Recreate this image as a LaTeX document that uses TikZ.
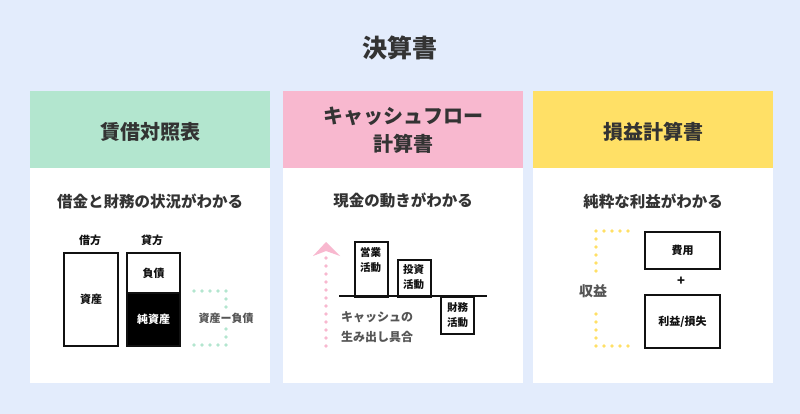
\documentclass[tikz,border=0pt]{standalone}
\usepackage{fontspec}
\setmainfont{Noto Sans CJK JP}
\definecolor{bgblue}{HTML}{E3ECFC}
\definecolor{hgreen}{HTML}{B3E6CF}
\definecolor{hpink}{HTML}{F8B8CF}
\definecolor{hyellow}{HTML}{FFE066}
\definecolor{txt}{HTML}{333333}
\definecolor{gtxt}{HTML}{555555}
\definecolor{ink}{HTML}{111111}
\tikzset{
  panel/.style={fill=white, draw=none, anchor=north west, minimum width=240pt, minimum height=292pt, inner sep=0pt},
  header/.style={draw=none, anchor=north west, minimum width=240pt, minimum height=77pt, inner sep=0pt},
  htext/.style={text=txt, font=\fontsize{20}{28}\selectfont\bfseries, align=center},
  sub/.style={text=txt, font=\fontsize{15.5}{18}\selectfont\bfseries},
  lbl/.style={text=ink, font=\fontsize{11}{15}\selectfont\bfseries, align=center, inner sep=0pt},
  abox/.style={draw=ink, line width=2pt, inner sep=0pt, anchor=north west},
  dots/.style={line width=3.6pt, line cap=round, dash pattern=on 0pt off 8pt},
  gray/.style={text=gtxt, font=\fontsize{12}{20}\selectfont\bfseries, align=left, inner sep=0pt},
}
\begin{document}
\begin{tikzpicture}[x=1pt,y=-1pt]
\useasboundingbox (0,0) rectangle (800,414);
\fill[bgblue] (0,0) rectangle (800,414);
\node[text=txt, font=\fontsize{25}{28}\selectfont\bfseries] (title) at (400,48) {決算書};

% panels
\node[panel] (p1) at (30,91) {};
\node[panel] (p2) at (283,91) {};
\node[panel] (p3) at (533,91) {};
\node[header, fill=hgreen] (h1) at (30,91) {};
\node[header, fill=hpink] (h2) at (283,91) {};
\node[header, fill=hyellow] (h3) at (533,91) {};
\node[htext] (t1) at (150,132) {賃借対照表};
\node[htext] (t2) at (403,130) {キャッシュフロー\\計算書};
\node[htext] (t3) at (653,132) {損益計算書};
\node[sub] (s1) at (150,201) {借金と財務の状況がわかる};
\node[sub] (s2) at (403,201) {現金の動きがわかる};
\node[sub] (s3) at (653,201) {純粋な利益がわかる};

% panel 1
\node[lbl] (kari) at (90,240) {借方};
\node[lbl] (kashi) at (152,240) {貸方};
\node[abox, minimum width=54pt, minimum height=93pt] (asset) at (63,252) {};
\node[lbl] at (asset.center) {資産};
\node[abox, minimum width=53pt, minimum height=40pt] (debt) at (126,252) {};
\node[lbl] at (debt.center) {負債};
\node[abox, fill=black, minimum width=53pt, minimum height=53pt] (equity) at (126,292) {};
\node[lbl, text=white] at (equity.center) {純資産};
\coordinate (g1) at (194,291);
\coordinate (g2) at (226,291);
\coordinate (g3) at (226,307);
\coordinate (g4) at (226,329);
\coordinate (g5) at (226,345);
\coordinate (g6) at (194,345);
\draw[dots, hgreen] (g1) -- (g2) -- (g3);
\draw[dots, hgreen] (g6) -- (g5) -- (g4);
\node[text=gtxt, font=\fontsize{11}{15}\selectfont\bfseries, fill=white, inner sep=1pt] (diff) at (226,318) {資産ー負債};

% panel 2
\coordinate (a0) at (326,346);
\coordinate (a1) at (326,258);
\draw[dots, hpink] (a0) -- (a1);
\fill[hpink] (326,242) -- (340,256) -- (326,251) -- (313,256) -- cycle;
\coordinate (b0) at (339,296);
\coordinate (b1) at (487,296);
\node[abox, minimum width=33pt, minimum height=55pt] (op) at (354,241) {};
\node[lbl, font=\fontsize{10.5}{15}\selectfont\bfseries] at (370.5,260.5) {営業\\活動};
\node[abox, minimum width=33pt, minimum height=37pt] (inv) at (397,259) {};
\node[lbl, font=\fontsize{10.5}{15}\selectfont\bfseries] at (413.5,277.5) {投資\\活動};
\node[abox, minimum width=33pt, minimum height=37pt] (fin) at (440,296) {};
\node[lbl, font=\fontsize{10.5}{15}\selectfont\bfseries] at (fin.center) {財務\\活動};
\draw[ink, line width=2pt] (b0) -- (b1);
\node[gray, anchor=west] (cash) at (341,327) {キャッシュの\\生み出し具合};

% panel 3
\node[abox, minimum width=75pt, minimum height=37pt] (cost) at (644,231) {};
\node[lbl] at (cost.center) {費用};
\node[lbl, font=\fontsize{13}{15}\selectfont\bfseries] (plus) at (681,281) {+};
\node[abox, minimum width=75pt, minimum height=53pt] (profit) at (644,294) {};
\node[lbl] at (profit.center) {利益/損失};
\coordinate (y1) at (628,231);
\coordinate (y2) at (596,231);
\coordinate (y3) at (596,277);
\coordinate (y4) at (596,307);
\coordinate (y5) at (596,346);
\coordinate (y6) at (628,346);
\draw[dots, hyellow] (y1) -- (y2) -- (y3);
\draw[dots, hyellow] (y6) -- (y5) -- (y4);
\node[text=gtxt, font=\fontsize{14}{16}\selectfont\bfseries] (rev) at (593,291) {収益};
\end{tikzpicture}
\end{document}
